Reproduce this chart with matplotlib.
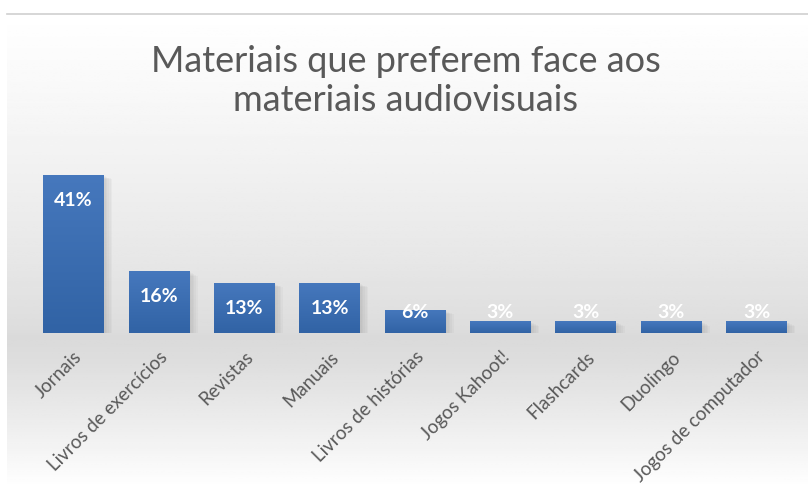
import numpy as np
import matplotlib.pyplot as plt
import matplotlib.transforms as mtransforms
from matplotlib.patches import Rectangle
from matplotlib.colors import LinearSegmentedColormap

# dados do grafico
categorias = ['Jornais', 'Livros de exercícios', 'Revistas', 'Manuais', 'Livros de histórias',
              'Jogos Kahoot!', 'Flashcards', 'Duolingo', 'Jogos de computador']
percentagens = [41, 16, 13, 13, 6, 3, 3, 3, 3]
titulo = 'Materiais que preferem face aos\nmateriais audiovisuais'

fig = plt.figure(figsize=(8.08, 4.88), dpi=100)

# fundo com gradiente (branco -> cinzento -> branco)
bg = fig.add_axes([7 / 808, 0, 1 - 7 / 808, 1 - 14 / 488], zorder=0)
ys = np.linspace(0, 1, 200)
pos_baixo = 150 / 474
grad = np.where(ys < pos_baixo,
                0.855 + 0.145 * (1 - ys / pos_baixo) ** 1.2,
                0.855 + 0.145 * ((ys - pos_baixo) / (1 - pos_baixo)) ** 0.75)
bg.imshow(np.repeat(grad[:, None], 2, axis=1), cmap='gray', vmin=0, vmax=1,
          aspect='auto', origin='lower', extent=[0, 1, 0, 1])
bg.set_axis_off()
fig.add_artist(plt.Line2D([7 / 808, 1], [1 - 14 / 488, 1 - 14 / 488], color='#cfcfcf', lw=1.2))

ax = fig.add_axes([30.8 / 808, 155 / 488, 768.4 / 808, 173.5 / 488], zorder=1)
ax.patch.set_alpha(0)
x = np.arange(len(categorias))
largura = 0.71

# sombra das barras
for xi, v in zip(x, percentagens):
    for k in range(5):
        ax.add_patch(Rectangle((xi - largura / 2 + 0.02 + 0.02 * k, -0.3 - 0.2 * k), largura, v,
                               color='#707070', alpha=0.05, lw=0, zorder=1))

barras = ax.bar(x, percentagens, width=largura, color='#3d6eb1', zorder=2)
azul = LinearSegmentedColormap.from_list('azul', ['#3163a5', '#4678bd'])
gbar = np.linspace(0, 1, 100)[:, None]
for b in barras:
    b.set_facecolor('none')
    x0, y0 = b.get_x(), b.get_y()
    im = ax.imshow(np.repeat(gbar, 2, axis=1), cmap=azul, aspect='auto', origin='lower',
                   extent=[x0, x0 + b.get_width(), y0, y0 + b.get_height()], zorder=2)
    im.set_clip_path(b)

for xi, v in zip(x, percentagens):
    ax.text(xi, max(v - 6.6, 5.4), f'{v}%', ha='center', va='center', color='white',
            fontsize=14, fontweight='bold', family='Lato', zorder=3)

ax.set_xlim(-0.5, len(categorias) - 0.5)
ax.set_ylim(0, 45)
ax.set_yticks([])
ax.set_xticks(x)
ax.set_xticklabels(categorias, rotation=45, ha='right', va='top', rotation_mode='anchor',
                   fontsize=13.5, color='#595959', family='Lato')
desloc = mtransforms.ScaledTranslation(9 / 100, 0, fig.dpi_scale_trans)
for lbl in ax.get_xticklabels():
    lbl.set_transform(lbl.get_transform() + desloc)
ax.tick_params(axis='x', length=0, pad=11)
for s in ax.spines.values():
    s.set_visible(False)

fig.text(0.502, 1 - 81 / 488, titulo, ha='center', va='center', fontsize=26,
         color='#595959', family='Lato', linespacing=1.2)

fig.savefig('out.png', dpi=100)
